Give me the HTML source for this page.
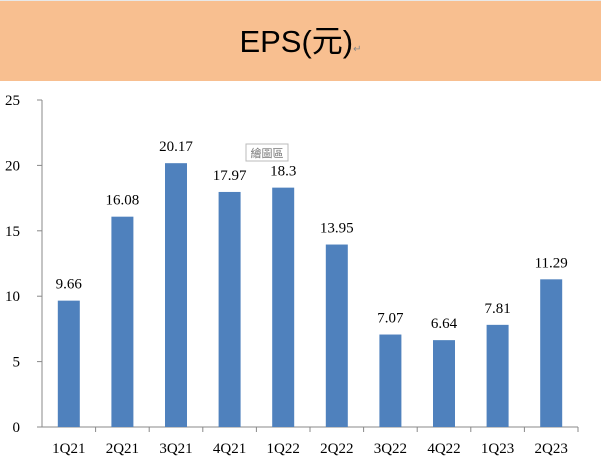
<!DOCTYPE html>
<html><head><meta charset="utf-8"><style>
body{margin:0;background:#fff;}
#wrap{position:relative;width:601px;height:461px;overflow:hidden;font-family:"Liberation Serif","Noto Serif CJK SC",serif;}
#banner{position:absolute;left:0;top:0;width:601px;height:80px;background:#F8BF90;border-top:1px solid #e8e8e8;}
#title{position:absolute;left:0;top:16px;width:601px;text-align:center;font-family:"Liberation Sans","Noto Sans CJK TC",sans-serif;font-size:31px;color:#000;}
</style></head><body>
<div id="wrap">
<div id="banner"></div>
<div id="title">EPS(元)<span style="font-size:10px;color:#888">↵</span></div>
<svg id="svg" width="601" height="461" style="position:absolute;left:0;top:0"></svg>
</div>
<script>
const categories=["1Q21","2Q21","3Q21","4Q21","1Q22","2Q22","3Q22","4Q22","1Q23","2Q23"];
const values=[9.66,16.08,20.17,17.97,18.3,13.95,7.07,6.64,7.81,11.29];
const valueLabels=["9.66","16.08","20.17","17.97","18.3","13.95","7.07","6.64","7.81","11.29"];
const yTicks=[0,5,10,15,20,25];
const svg=document.getElementById('svg');
const NS='http://www.w3.org/2000/svg';
const x0=42,step=53.6,y0=427,yTop=100,yMax=25;
function y(v){return y0-(y0-yTop)*v/yMax;}
function xc(i){return x0+step*(i+0.5);}
function mk(t,a,txt){const e=document.createElementNS(NS,t);for(const k in a)e.setAttribute(k,a[k]);if(txt!==undefined)e.textContent=txt;svg.appendChild(e);return e;}
let e=mk('line',{x1:x0,y1:y0,x2:x0,y2:yTop,stroke:'#888'});


e=mk('line',{x1:x0,y1:y0,x2:x0+step*categories.length,y2:y0,stroke:'#888'});


yTicks.forEach(t=>{
  mk('line',{x1:x0-5,y1:y(t),x2:x0,y2:y(t),stroke:'#888'});
  const l=mk('text',{x:20,y:y(t)+5,'text-anchor':'end','font-size':15,fill:'#000'},String(t));
  
  
});
categories.forEach((c,i)=>{
  mk('line',{x1:x0+step*(i+1),y1:y0,x2:x0+step*(i+1),y2:y0+5,stroke:'#888'});
  const b=mk('rect',{x:xc(i)-11,y:y(values[i]),width:22,height:y0-y(values[i]),fill:'#4F81BD'});
  
  
  const l=mk('text',{x:xc(i),y:453,'text-anchor':'middle','font-size':15,fill:'#000'},c);
  
  
  const v=mk('text',{x:xc(i),y:y(values[i])-12,'text-anchor':'middle','font-size':15,fill:'#000'},valueLabels[i]);
  
  
});
const tip=mk('rect',{x:246,y:144,width:42,height:17,fill:'#fff',stroke:'#bbb'});


mk('text',{x:267,y:157,'text-anchor':'middle','font-size':11,fill:'#777','font-family':'Noto Sans CJK TC, sans-serif'},'繪圖區');
</script>
</body></html>
